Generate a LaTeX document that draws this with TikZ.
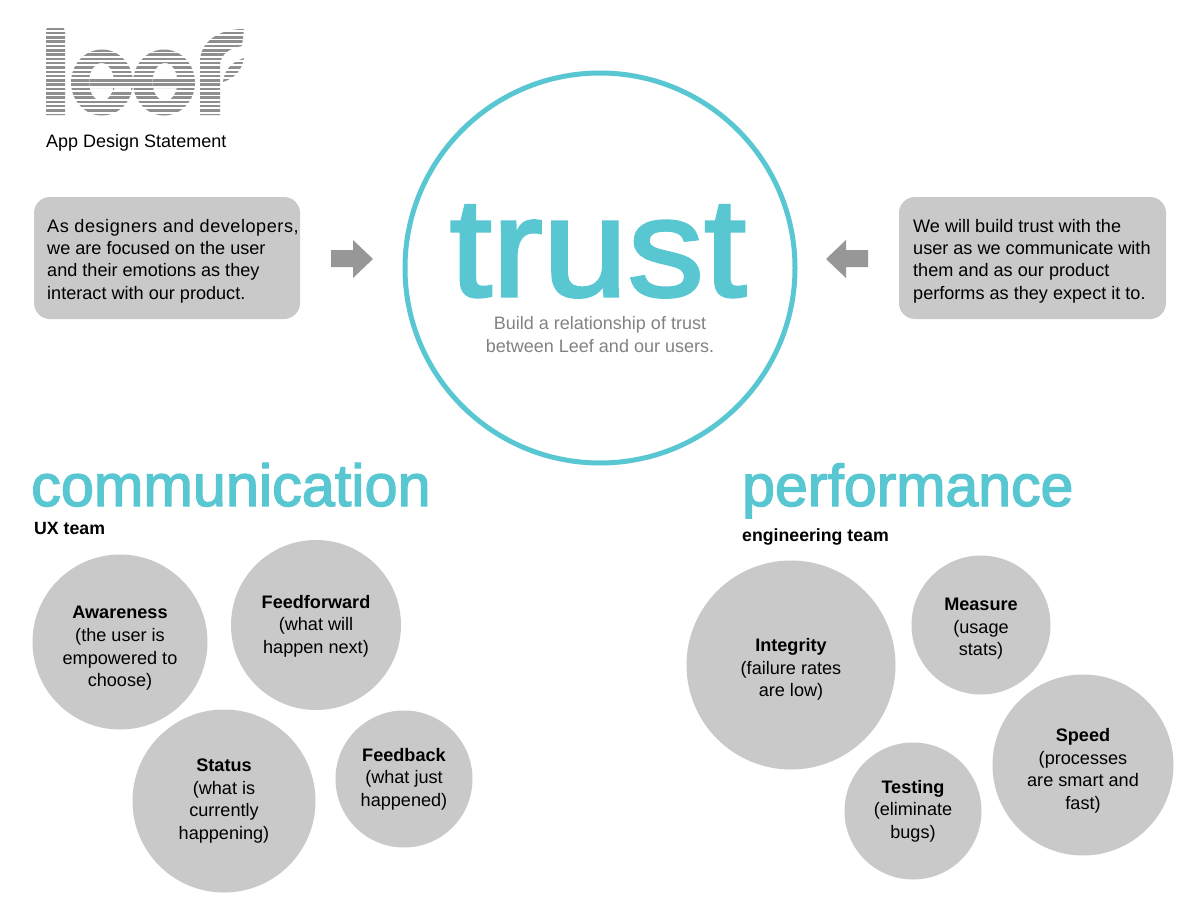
\documentclass[tikz,border=0pt]{standalone}
\usepackage{fontspec}
\setmainfont{Liberation Sans}
\newfontfamily\headfont[FakeBold=2.3]{Liberation Sans}
\newfontfamily\bigfont[FakeBold=2.2,FakeStretch=1.09]{Liberation Sans}
\definecolor{teal}{HTML}{58C7D2}
\definecolor{boxgray}{HTML}{C9C9C9}
\definecolor{arrowgray}{HTML}{979797}
\definecolor{subgray}{HTML}{828282}
\definecolor{stripe}{HTML}{8F8F8F}
\newcommand{\sz}[2]{\fontsize{#1}{#2}\selectfont}
\tikzset{
  x=1pt,y=-1pt,
  bubble/.style={circle,fill=boxgray,draw=none,inner sep=0pt},
  bubbletext/.style={align=center,font=\sz{18.1}{22.6},text=black,inner sep=0pt},
  card/.style={align=left,font=\sz{18.1}{22.4},text=black,inner sep=0pt,anchor=west},
  cardbox/.style={fill=boxgray,rounded corners=16pt,draw=none},
  heading/.style={text=teal,inner sep=0pt,anchor=base west},
  team/.style={font=\sz{17.7}{21}\bfseries,inner sep=0pt,anchor=base west},
  pointer/.style={fill=arrowgray,draw=none},
}
\begin{document}
\begin{tikzpicture}
\useasboundingbox (0,0) rectangle (1200,913);
\fill[white] (0,0) rectangle (1200,913);
% logo
\begin{scope}[even odd rule]
\clip
  (46,30) .. controls (46,28) and (48,27) .. (50,27) -- (60,27) .. controls (63,27) and (65,28) .. (65,31) -- (65,115) -- (46,115) -- cycle
  (102,82.5) ellipse[x radius=31,y radius=33]
  (101.5,82) ellipse[x radius=12.5,y radius=19]
  (89.5,79) rectangle (113.5,88)
  (114,88) rectangle (131,92)
  (164,82.5) ellipse[x radius=31,y radius=33]
  (165,82) ellipse[x radius=12.5,y radius=19]
  (153,79) rectangle (177,88)
  (200,115) -- (200,62) .. controls (200,42) and (218,29) .. (244,29) -- (242,46) .. controls (230,48) and (220,54) .. (220,66) -- (220,115) -- cycle
  (223,82) .. controls (224,70) and (232,62) .. (244,58) .. controls (242,70) and (235,78) .. (223,82) -- cycle;
\foreach \k in {0,...,20}
  \fill[stripe] (40,{27.5+4.3*\k}) rectangle (250,{30+4.3*\k});
\end{scope}
\node[anchor=base west,inner sep=0pt,font=\sz{18}{22}] (subtitle) at (46,147) {App Design Statement};
% centre
\node[circle,draw=teal,line width=5pt,minimum size=390pt,inner sep=0pt] (ring) at (600,268) {};
\node[inner sep=0pt,anchor=base,text=teal,font=\bigfont\sz{140}{140}] (trust) at (598,296) {trust};
\node[align=center,inner sep=0pt,text=subgray,font=\sz{18}{22.6}] (sub) at (600,334.5) {Build a relationship of trust\\between Leef and our users.};
% cards
\path[cardbox] (34,197) rectangle (300,319);
\node[card] (lefttext) at (47,261) {{\addfontfeature{LetterSpace=3}As designers and developers,}\\we are focused on the user\\and their emotions as they\\interact with our product.};
\path[cardbox] (899,197) rectangle (1166,319);
\node[card] (righttext) at (913,261) {We will build trust with the\\user as we communicate with\\them and as our product\\performs as they expect it to.};
% pointers
\path[pointer] (331,250) -- (353,250) -- (353,240) -- (373,259) -- (353,278) -- (353,267) -- (331,267) -- cycle;
\path[pointer] (868,250) -- (846,250) -- (846,240) -- (826,259) -- (846,278) -- (846,267) -- (868,267) -- cycle;
% headings
\node[heading,font=\headfont\sz{59.4}{70}] (comm) at (31,506) {communication};
\node[team] (ux) at (34,534) {UX team};
\node[heading,font=\headfont\sz{59}{70}] (perf) at (742,506) {performance};
\node[team] (eng) at (742,541) {engineering team};
% bubbles
\node[bubble,minimum size=175pt] (aw) at (120,642) {};
\node[bubbletext,yshift=-6.5pt] at (aw) {\textbf{Awareness}\\(the user is\\empowered to\\choose)};
\node[bubble,minimum size=170pt] (ff) at (316,625) {};
\node[bubbletext,yshift=-1pt] at (ff) {\textbf{Feedforward}\\(what will\\happen next)};
\node[bubble,minimum size=183pt] (st) at (224,801) {};
\node[bubbletext] at (st) {\textbf{Status}\\(what is\\currently\\happening)};
\node[bubble,minimum size=137pt] (fb) at (404,779) {};
\node[bubbletext] at (fb) {\textbf{Feedback}\\(what just\\happened)};
\node[bubble,minimum size=209pt] (in) at (791,665) {};
\node[bubbletext,yshift=-4.5pt] at (in) {\textbf{Integrity}\\(failure rates\\are low)};
\node[bubble,minimum size=139pt] (me) at (981,625) {};
\node[bubbletext,yshift=-4pt] at (me) {\textbf{Measure}\\(usage\\stats)};
\node[bubble,minimum size=181pt] (sp) at (1083,765) {};
\node[bubbletext,yshift=-6pt] at (sp) {\textbf{Speed}\\(processes\\are smart and\\fast)};
\node[bubble,minimum size=137pt] (te) at (913,811) {};
\node[bubbletext] at (te) {\textbf{Testing}\\(eliminate\\bugs)};
\end{tikzpicture}
\end{document}
